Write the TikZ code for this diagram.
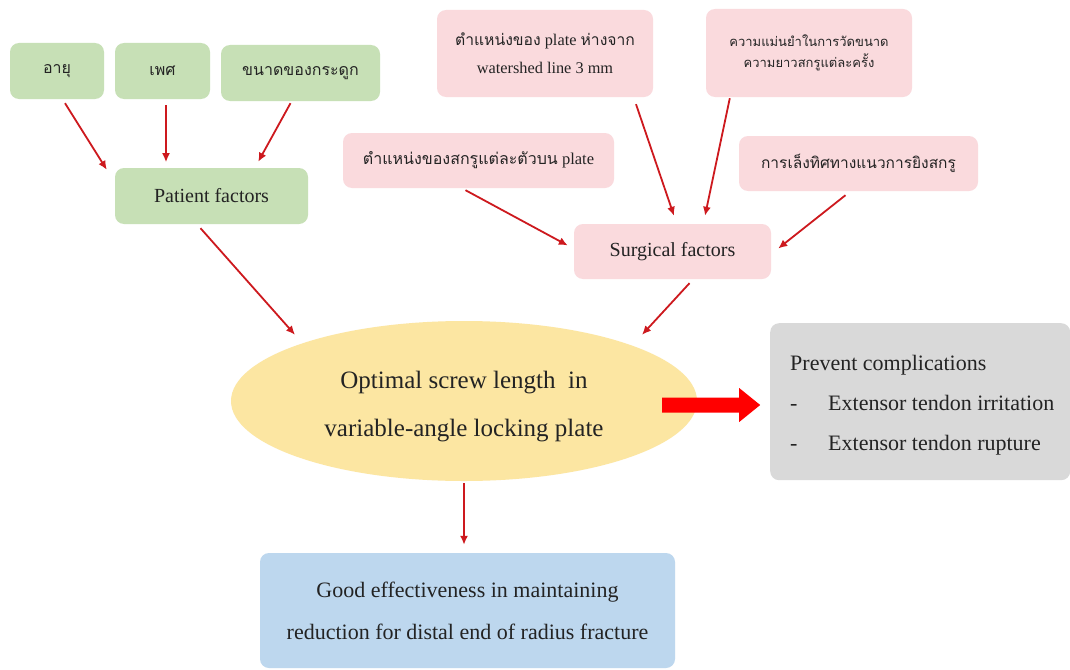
\documentclass[tikz,border=0pt]{standalone}
\usepackage{fontspec}
\setmainfont{Liberation Serif}
\newfontfamily\thai[Script=Thai]{Loma}
\usetikzlibrary{arrows.meta,shapes.geometric,calc}
\definecolor{gfill}{RGB}{199,224,182}
\definecolor{pfill}{RGB}{250,218,221}
\definecolor{yfill}{RGB}{252,230,162}
\definecolor{grfill}{RGB}{217,217,217}
\definecolor{bfill}{RGB}{189,215,238}
\definecolor{arr}{RGB}{205,25,30}
\definecolor{txt}{RGB}{35,35,35}
\tikzset{
  box/.style={rounded corners=9pt, inner sep=0pt, align=center, text=txt},
  gbox/.style={box, fill=gfill},
  pbox/.style={box, fill=pfill},
  conn/.style={draw=arr, line width=1.8pt, -{Latex[length=9pt,width=8pt]}},
}
\begin{document}
\begin{tikzpicture}[x=1pt,y=-1pt]
\useasboundingbox (0,0) rectangle (1070,669);
\fill[white] (0,0) rectangle (1070,669);
% patient side
\node[gbox, minimum width=94pt, minimum height=56pt, font=\thai\fontsize{16}{19}\selectfont] (age) at (57,71) {อายุ};
\node[gbox, minimum width=95pt, minimum height=56pt, font=\thai\fontsize{16}{19}\selectfont] (sex) at (162.5,71) {เพศ};
\node[gbox, minimum width=159pt, minimum height=56pt, font=\thai\fontsize{16}{19}\selectfont] (bone) at (300.5,73) {ขนาดของกระดูก};
\node[gbox, minimum width=193pt, minimum height=56pt, font=\fontsize{20}{23}\selectfont] (pf) at (211.5,196) {Patient factors};
% surgical side
\node[pbox, minimum width=216pt, minimum height=87pt, font=\fontsize{16.3}{28}\selectfont] (plate) at (545,53.5) {{\thai\fontsize{15.7}{28}\selectfont ตำแหน่งของ} plate {\thai\fontsize{15.7}{28}\selectfont ห่างจาก}\\watershed line 3 mm};
\node[pbox, minimum width=206pt, minimum height=88pt, font=\thai\fontsize{13}{21}\selectfont] (acc) at (809,53) {ความแม่นยำในการวัดขนาด\\ความยาวสกรูแต่ละครั้ง};
\node[pbox, minimum width=271pt, minimum height=55pt, font=\fontsize{16.5}{19}\selectfont] (pos) at (478.5,160.5) {{\thai\fontsize{16}{19}\selectfont ตำแหน่งของสกรูแต่ละตัวบน} plate};
\node[pbox, minimum width=239pt, minimum height=55pt, font=\thai\fontsize{15.5}{18}\selectfont] (aim) at (858.5,163.5) {การเล็งทิศทางแนวการยิงสกรู};
\node[pbox, minimum width=197pt, minimum height=55pt, font=\fontsize{20}{23}\selectfont] (sf) at (672.5,251.5) {Surgical factors};
% center
\node[ellipse, fill=yfill, minimum width=466pt, minimum height=160pt, inner sep=0pt] (ell) at (464,401) {};
\node[align=center, inner sep=0pt, text=txt, font=\fontsize{25}{48}\selectfont] (elltext) at ($(ell.center)+(0,6)$) {Optimal screw length~ in\\variable-angle locking plate};
\node[box, fill=grfill, minimum width=300pt, minimum height=157pt, anchor=north west] (prev) at (770,323) {};
\node[anchor=west, align=left, inner sep=0pt, text=txt, font=\fontsize{22}{40}\selectfont] (prevtxt) at (790,405) {Prevent complications\\\makebox[38pt][l]{-}Extensor tendon irritation\\\makebox[38pt][l]{-}Extensor tendon rupture};
\node[box, fill=bfill, minimum width=415pt, minimum height=115pt, font=\fontsize{22}{42}\selectfont] (good) at (467.5,610.5) {Good effectiveness in maintaining\\reduction for distal end of radius fracture};
% big arrow
\coordinate (bigtail) at ($(ell.east)+(-35,4)$);
\fill[red] (bigtail) ++(0,-7.5) -- ++(77,0) -- ++(0,-9.5) -- ++(21,17) -- ++(-21,17) -- ++(0,-9.5) -- ++(-77,0) -- cycle;
% connectors
\draw[conn] ($(age.south)+(8,4)$) -- ($(pf.north west)+(-8,2)$);
\draw[conn] ($(sex.south)+(3.5,6)$) -- ($(sex.south)+(3.5,63)$);
\draw[conn] ($(bone.south)+(-10,2)$) -- ($(pf.north east)+(-50,-6)$);
\draw[conn] ($(pf.south)+(-11,4)$) -- ($(ell.north)+(-169,14)$);
\draw[conn] ($(sf.south)+(17,4)$) -- ($(ell.north)+(178,14)$);
\draw[conn] ($(pos.south)+(-13,2)$) -- ($(sf.west)+(-6,-6)$);
\draw[conn] ($(plate.south)+(91,7)$) -- ($(sf.north)+(1.5,-8)$);
\draw[conn] ($(acc.south west)+(24,1)$) -- ($(sf.north)+(32.5,-8)$);
\draw[conn] ($(aim.south)+(-13,4)$) -- ($(sf.east)+(7,-3)$);
\draw[conn] ($(ell.south)+(0,2)$) -- ($(good.north)+(-3.5,-8)$);
\end{tikzpicture}
\end{document}
